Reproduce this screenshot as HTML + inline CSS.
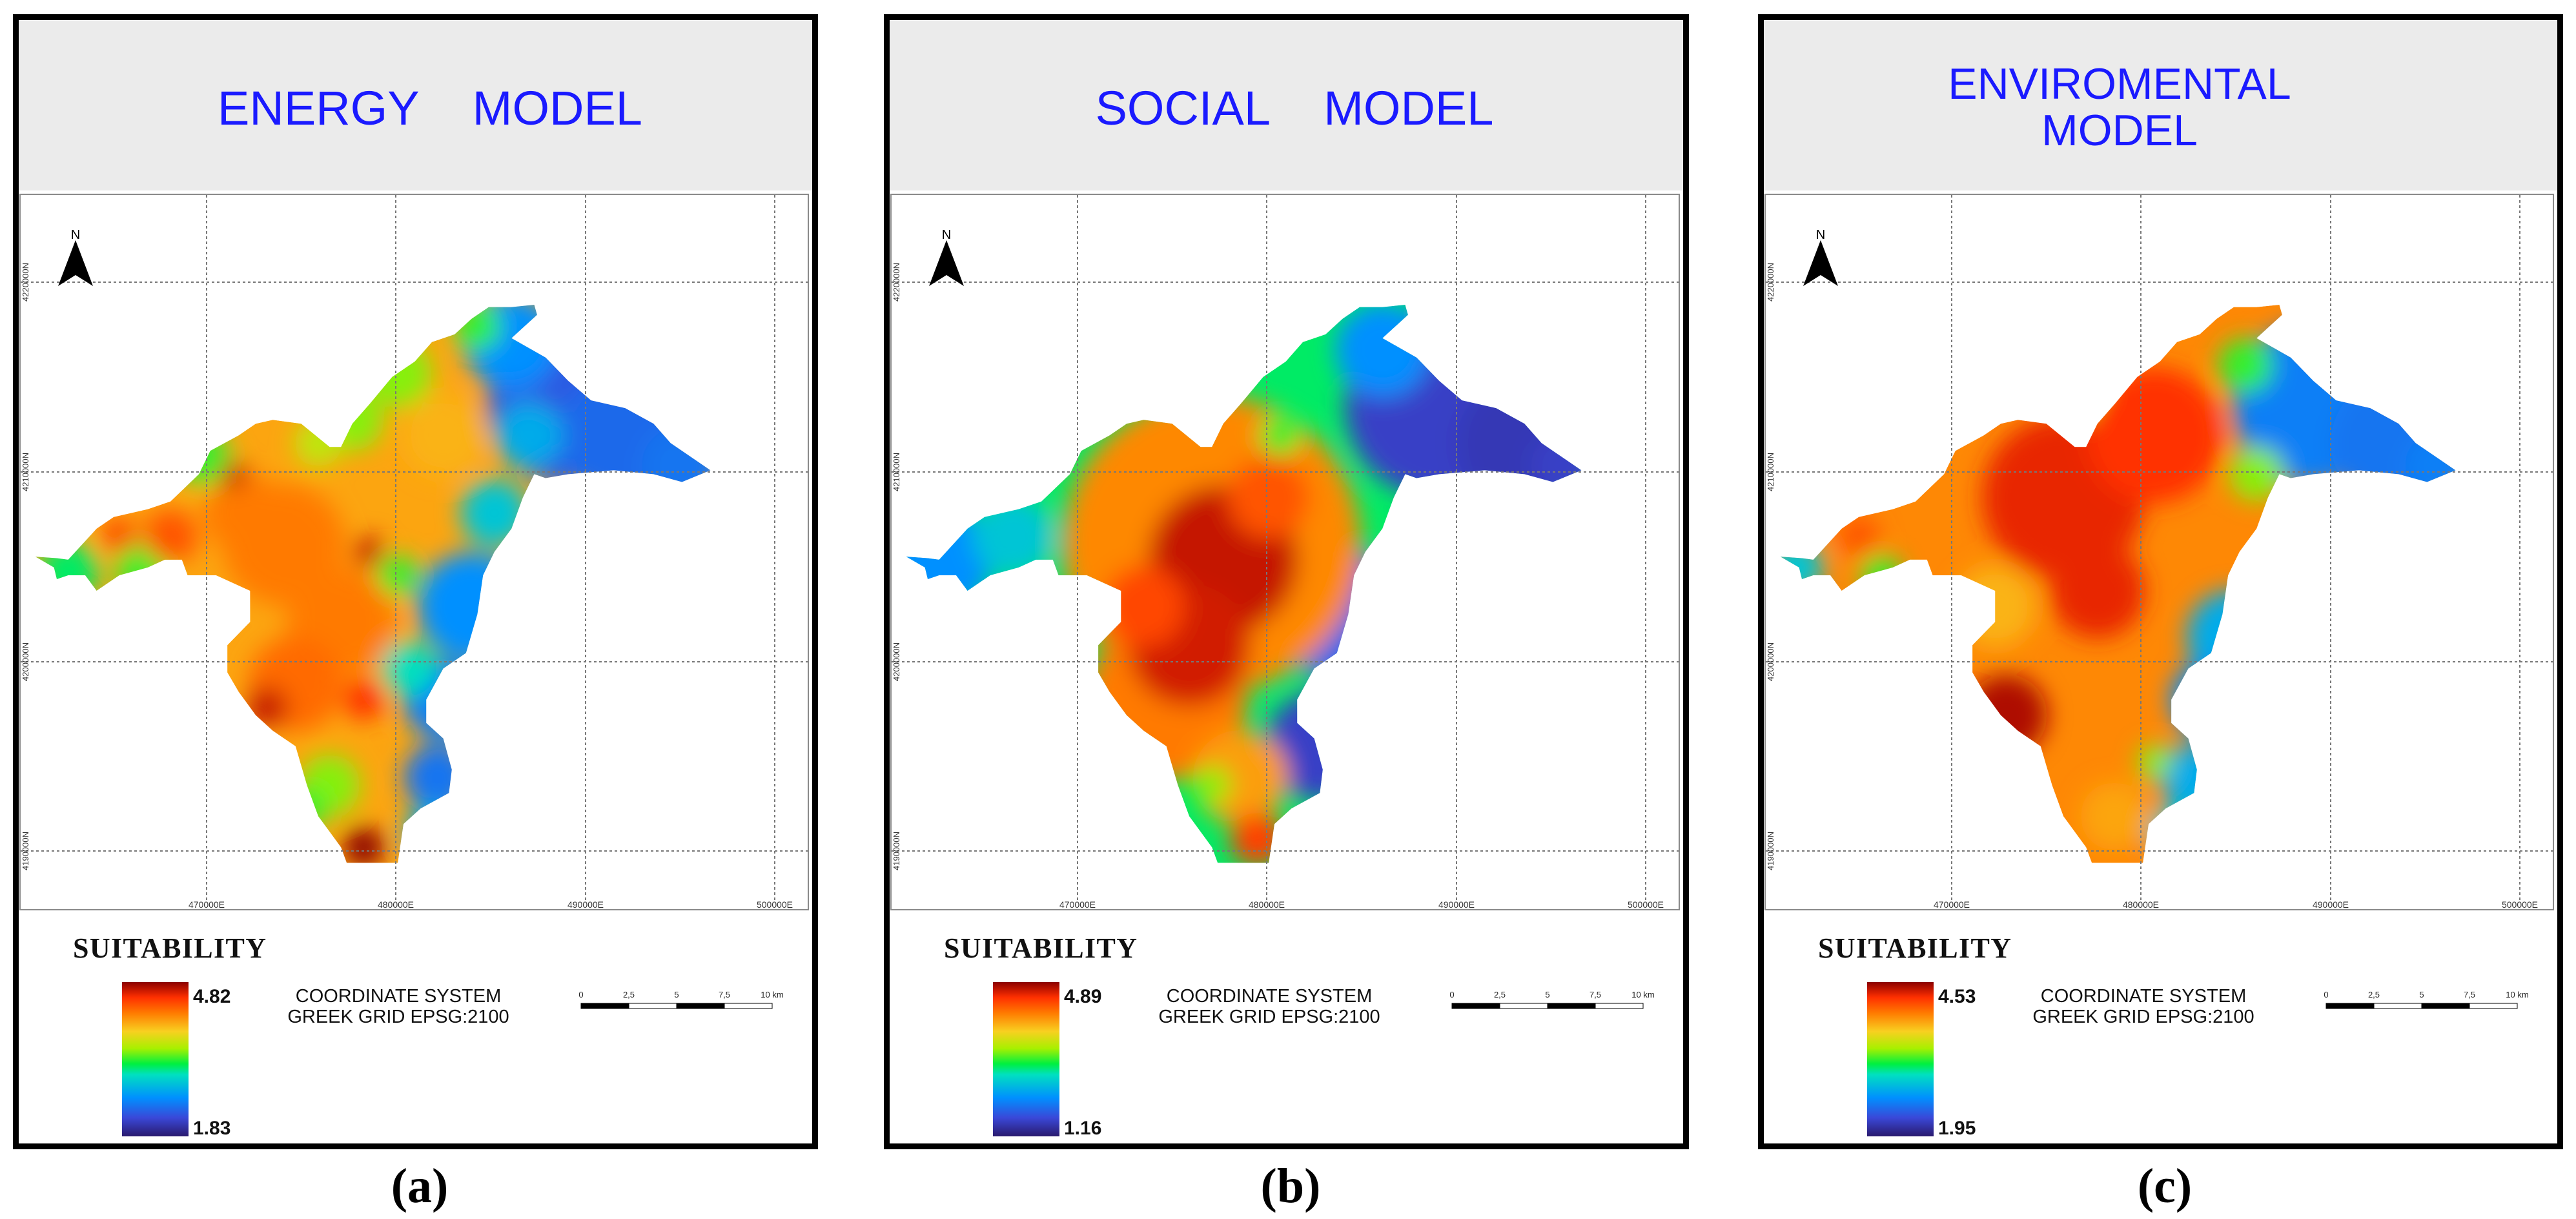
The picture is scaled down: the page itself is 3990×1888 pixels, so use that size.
<!DOCTYPE html>
<html><head><meta charset="utf-8">
<style>
html,body{margin:0;padding:0;background:#fff;}
svg{display:block;}
</style></head>
<body>
<svg id="fig" width="3990" height="1888" viewBox="0 0 3990 1888" xmlns="http://www.w3.org/2000/svg">
<defs>
<filter id="blur" x="-20%" y="-20%" width="140%" height="140%"><feGaussianBlur stdDeviation="18"/></filter>
<linearGradient id="cbar" x1="0" y1="1" x2="0" y2="0">
<stop offset="0" stop-color="#2a1a6e"/><stop offset="0.12" stop-color="#3a48d8"/><stop offset="0.25" stop-color="#0090ff"/>
<stop offset="0.4" stop-color="#00e0c0"/><stop offset="0.47" stop-color="#00f040"/><stop offset="0.57" stop-color="#a8f000"/>
<stop offset="0.68" stop-color="#f8d020"/><stop offset="0.8" stop-color="#ff7a00"/><stop offset="0.9" stop-color="#ff3000"/>
<stop offset="1" stop-color="#8b0000"/></linearGradient>
</defs>
</svg>
<script>
const titles = [["ENERGY\u00a0\u00a0\u00a0\u00a0MODEL"], ["SOCIAL\u00a0\u00a0\u00a0\u00a0MODEL"], ["ENVIROMENTAL", "MODEL"]];
const captions = ["(a)", "(b)", "(c)"];
const maxVals = ["4.82", "4.89", "4.53"];
const minVals = ["1.83", "1.16", "1.95"];
const xTicks = ["470000E", "480000E", "490000E", "500000E"];
const yTicks = ["4220000N", "4210000N", "4200000N", "4190000N"];
const scaleLabels = ["0", "2,5", "5", "7,5", "10 km"];
// suitability blobs [u, v, radius, normalized value]; first entry = base value
const blobsA = [[0,0,0,0.74],[1000,520,120,0.15],[1100,560,100,0.18],[1200,600,60,0.2],[900,440,70,0.25],[830,780,80,0.25],[780,900,60,0.22],[770,1000,50,0.2],[760,1070,40,0.3],[720,860,40,0.4],[870,660,50,0.35],[930,560,50,0.3],
 [700,480,50,0.55],[620,540,45,0.55],[560,570,35,0.6],[360,590,40,0.5],[120,735,45,0.45],[250,730,40,0.5],[580,1010,45,0.55],[700,740,30,0.5],[540,1040,30,0.5],[840,420,35,0.5],
 [500,700,90,0.8],[600,800,80,0.8],[520,880,70,0.82],[430,660,60,0.8],[300,690,40,0.85],[210,690,25,0.88],[780,560,60,0.72],
 [470,910,30,0.95],[640,1090,30,1],[650,710,22,0.95],[410,610,20,0.95],[640,900,30,0.9]];
const blobsB = [[0,0,0,0.45],[1000,520,140,0.1],[1150,570,100,0.08],[1220,600,50,0.1],[850,800,100,0.18],[790,960,80,0.1],[900,450,70,0.25],[120,720,80,0.25],[250,690,60,0.35],
 [600,700,220,0.78],[520,900,120,0.8],[650,1000,70,0.75],[620,720,110,0.95],[560,830,90,0.94],[700,640,60,0.85],[680,1080,40,0.88],[480,780,60,0.87],[720,560,30,0.5],[600,1010,28,0.55]];
const blobsC = [[0,0,0,0.78],[1000,520,120,0.22],[1150,570,100,0.2],[1220,600,50,0.22],[860,820,70,0.3],[820,900,60,0.25],[790,1000,50,0.3],[760,1070,40,0.35],
 [880,470,40,0.5],[900,610,40,0.55],[720,980,25,0.55],[90,730,40,0.35],[240,740,30,0.5],[620,520,30,0.55],
 [560,640,120,0.92],[720,560,100,0.9],[620,760,70,0.92],[460,920,60,0.97],[200,690,30,0.85],[440,780,60,0.72],[650,1050,50,0.74]];
const blobSets = [blobsA, blobsB, blobsC];
const panelX = [20, 1369, 2723];
const outline = [[62,716],[100,718],[120,720],[170,680],[200,665],[260,655],[300,645],[350,610],[370,580],[420,560],[450,545],[480,540],[530,545],[580,575],[600,575],[620,545],[650,520],[690,485],[730,465],[760,440],[800,430],[830,410],[860,395],[900,395],[940,392],[945,405],[900,435],[960,460],[1000,490],[1040,515],[1100,525],[1150,545],[1180,570],[1210,585],[1250,605],[1200,620],[1150,610],[1080,605],[1000,610],[960,615],[940,610],[920,640],[900,680],[870,710],[850,740],[840,790],[820,840],[780,860],[750,900],[750,930],[780,950],[795,990],[790,1020],[740,1040],[710,1060],[700,1110],[660,1110],[610,1110],[600,1090],[560,1050],[540,1010],[520,960],[480,940],[450,920],[420,890],[400,865],[400,830],[440,800],[440,760],[380,740],[330,740],[320,720],[290,720],[260,730],[210,740],[170,760],[150,740],[120,740],[100,745],[95,730]];

const stops = [[0,[42,26,110]],[0.12,[58,72,216]],[0.25,[0,144,255]],[0.4,[0,224,192]],[0.47,[0,240,64]],[0.57,[168,240,0]],[0.68,[248,208,32]],[0.8,[255,122,0]],[0.9,[255,48,0]],[1,[139,0,0]]];
function cmap(v){for(let i=1;i<stops.length;i++){if(v<=stops[i][0]){const a=stops[i-1],b=stops[i];const t=(v-a[0])/(b[0]-a[0]);const c=a[1].map((x,k)=>Math.round(x+(b[1][k]-x)*t));return `rgb(${c})`;}}return 'rgb(139,0,0)';}
const ux = u => u/1.136, vy = v => v*1.204;
const NS='http://www.w3.org/2000/svg';
const svg=document.getElementById('fig');
const defs=svg.querySelector('defs');
function mk(tag,attrs,parent){const e=document.createElementNS(NS,tag);for(const k in attrs)e.setAttribute(k,attrs[k]);(parent||svg).appendChild(e);return e;}
const gx=[300,593,887,1180], gy=[437,731,1025,1318];
const ptsStr = dx => outline.map(p=>`${(ux(p[0])-20+dx).toFixed(1)},${vy(p[1]).toFixed(1)}`).join(' ');

for(let p=0;p<3;p++){
  const X=panelX[p];
  const g=mk('g',{transform:`translate(${X},0)`});
  
  
  mk('rect',{x:0,y:22,width:1247,height:1758,fill:'#fff'},g);
  const hdr=mk('rect',{x:9,y:31,width:1229,height:264,fill:'#ebebeb'},g);
  
  
  const tl=titles[p];
  tl.forEach((t,i)=>{
    const cx=p===2?560:(p===1?636:646);
    const y= tl.length===1?193:(153+i*72);
    const tx=mk('text',{x:cx,y:y,'text-anchor':'middle','font-family':'Liberation Sans, sans-serif','font-size':tl.length===1?74:68,fill:'#1a1aff'},g);
    tx.textContent=t;
    
    
  });
  const frame=mk('rect',{x:11,y:301,width:1221,height:1108,fill:'#fff',stroke:'#8a8a8a','stroke-width':2},g);
  
  
  const cp=mk('clipPath',{id:'clip'+p},defs);
  mk('polygon',{points:ptsStr(0)},cp);
  const sg=mk('g',{'clip-path':`url(#clip${p})`},g);
  
  
  const blobs=blobSets[p];
  mk('polygon',{points:ptsStr(0),fill:cmap(blobs[0][3])},sg);
  const bg=mk('g',{filter:'url(#blur)'},sg);
  blobs.slice(1).forEach(b=>{
    const c=mk('circle',{cx:ux(b[0])-20,cy:vy(b[1]),r:b[2]*1.05,fill:cmap(b[3])},bg);
    
    
  });
  gx.forEach((x,i)=>{
    const l=mk('line',{x1:x,y1:302,x2:x,y2:1395,stroke:'#777','stroke-width':2,'stroke-dasharray':'4 4'},g);
    
    
    const t=mk('text',{x:x,y:1406,'text-anchor':'middle','font-family':'Liberation Sans, sans-serif','font-size':14,fill:'#333'},g);
    t.textContent=xTicks[i];
    
    
  });
  gy.forEach((y,i)=>{
    const l=mk('line',{x1:12,y1:y,x2:1231,y2:y,stroke:'#777','stroke-width':2,'stroke-dasharray':'4 4'},g);
    
    
    const t=mk('text',{x:0,y:0,transform:`translate(24,${y}) rotate(-90)`,'text-anchor':'middle','font-family':'Liberation Sans, sans-serif','font-size':13,fill:'#333'},g);
    t.textContent=yTicks[i];
    
    
  });
  const na=mk('polygon',{points:'97,372 70,443 97,426 124,443',fill:'#000'},g);
  
  
  const nt=mk('text',{x:97,y:370,'text-anchor':'middle','font-family':'Liberation Sans, sans-serif','font-size':20,fill:'#000'},g);
  nt.textContent='N';
  
  
  const st=mk('text',{x:93,y:1483,'font-family':'Liberation Serif, serif','font-weight':'bold','font-size':44,'letter-spacing':3,fill:'#111',textLength:302},g);
  st.textContent='SUITABILITY';
  
  
  const cb=mk('rect',{x:169,y:1521,width:103,height:239,fill:'url(#cbar)'},g);
  
  
  const mx=mk('text',{x:279,y:1553,'font-family':'Liberation Sans, sans-serif','font-weight':'bold','font-size':30,fill:'#111'},g);
  mx.textContent=maxVals[p];
  
  
  const mn=mk('text',{x:279,y:1757,'font-family':'Liberation Sans, sans-serif','font-weight':'bold','font-size':30,fill:'#111'},g);
  mn.textContent=minVals[p];
  
  
  ['COORDINATE SYSTEM','GREEK GRID EPSG:2100'].forEach((t,i)=>{
    const e=mk('text',{x:597,y:1552+i*32,'text-anchor':'middle','font-family':'Liberation Sans, sans-serif','font-size':29,fill:'#111'},g);
    e.textContent=t;
    
    
  });
  const sx0=880, sw=74;
  for(let i=0;i<4;i++){
    const r=mk('rect',{x:sx0+i*sw,y:1554,width:sw,height:8,fill:i%2?'#fff':'#000',stroke:'#000','stroke-width':1},g);
    
    
  }
  scaleLabels.forEach((s,i)=>{
    const t=mk('text',{x:sx0+i*sw,y:1545,'text-anchor':'middle','font-family':'Liberation Sans, sans-serif','font-size':13,fill:'#222'},g);
    t.textContent=s;
    
    
  });
  const bd=mk('rect',{x:4.5,y:26.5,width:1238,height:1749,fill:'none',stroke:'#000','stroke-width':9},g);
  
  
  const cap=mk('text',{x:630,y:1862,'text-anchor':'middle','font-family':'Liberation Serif, serif','font-weight':'bold','font-size':76,fill:'#000'},g);
  cap.textContent=captions[p];
  
  
}
</script>
</body></html>
